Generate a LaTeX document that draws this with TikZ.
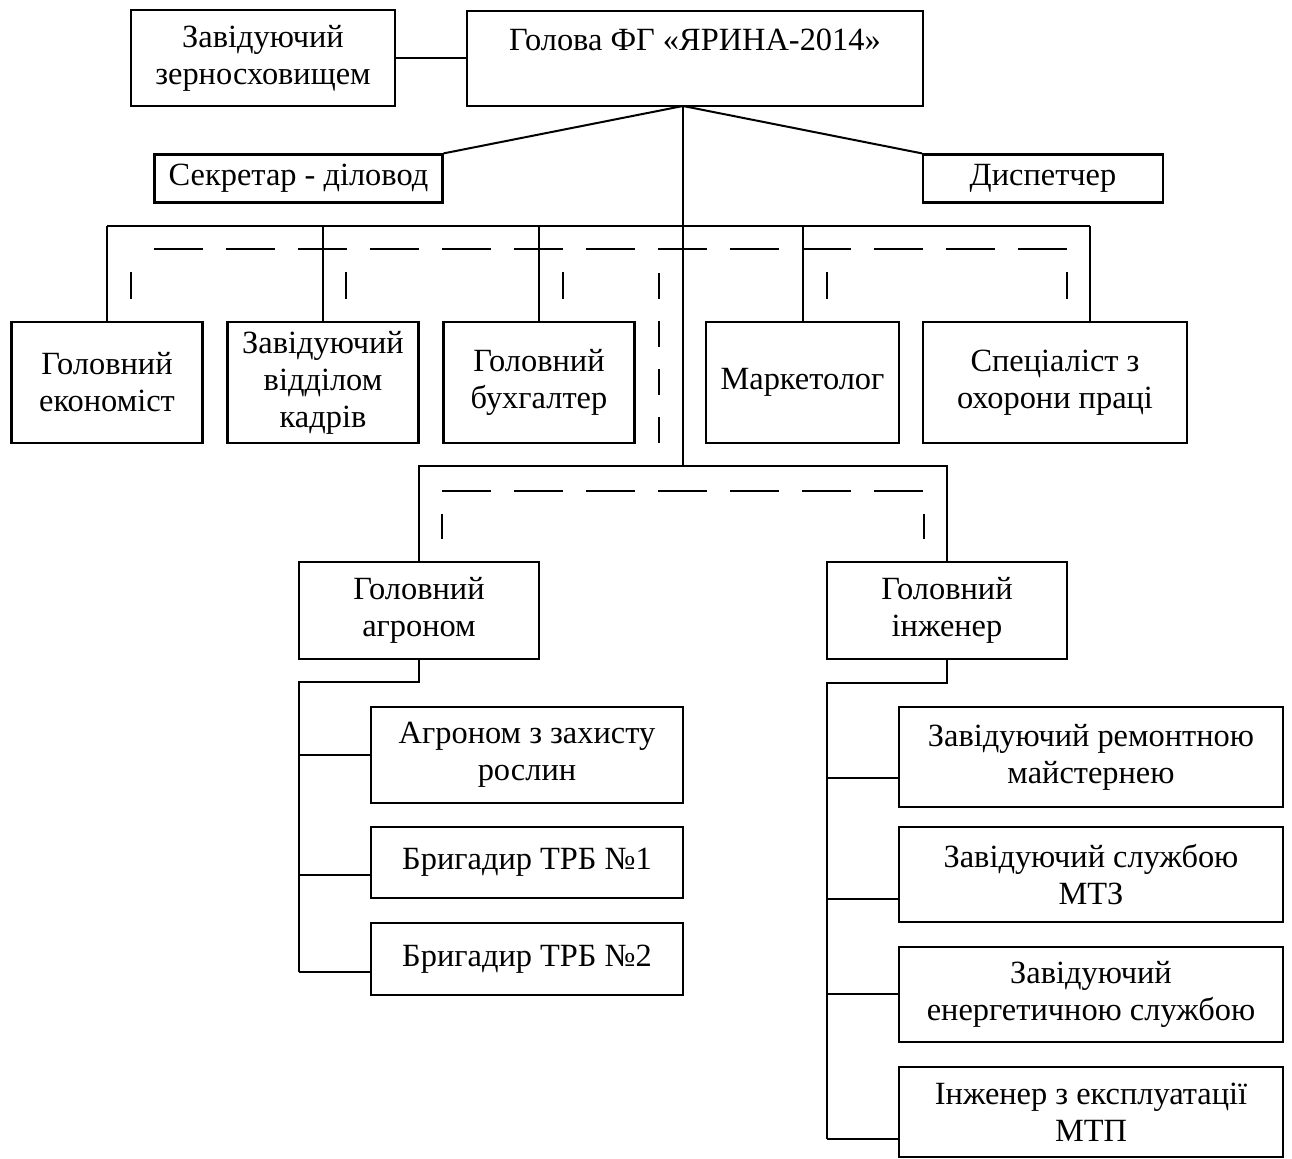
\documentclass[tikz,border=0pt]{standalone}
\usepackage{fontspec}
\setmainfont{Liberation Serif}
\usetikzlibrary{calc}

\begin{document}
\begin{tikzpicture}[x=0.5pt,y=-0.5pt]
\tikzstyle{post}=[draw,line width=1.1pt,align=center,inner sep=0pt,
  font=\fontsize{16.2}{18.5}\selectfont]
\tikzstyle{link}=[line width=1pt]
\tikzset{
dashh/.style={line width=1pt,dash pattern=on 24.5pt off 11.5pt},
dashv/.style={line width=1pt,dash pattern=on 13pt off 11pt},
}
\useasboundingbox (0,0) rectangle (1292,1159);

% HEAD OF THE FARM
\node[post,minimum width=228pt,minimum height=47.5pt] (holova) at (695,58.5)
  {Голова ФГ «ЯРИНА-2014»\\~};
\node[post,minimum width=132pt,minimum height=48pt] (zern) at (263,58)
  {Завідуючий\\зерносховищем};
\node[post,minimum width=144pt,minimum height=24pt] (sekr) at (298.5,178.5)
  {Секретар - діловод};
\node[post,minimum width=120pt,minimum height=24pt] (disp) at (1043,178.5)
  {Диспетчер};
\coordinate (hb) at (683,106); % bottom point of the head box

% STAFF ROW
\node[post,minimum width=95.5pt,minimum height=60.5pt] (econ) at (107,382.5)
  {Головний\\економіст};
\node[post,minimum width=95.5pt,minimum height=60.5pt] (kadry) at (323,382.5)
  {Завідуючий\\відділом\\кадрів};
\node[post,minimum width=95.5pt,minimum height=60.5pt] (bukh) at (539,382.5)
  {Головний\\бухгалтер};
\node[post,minimum width=96.5pt,minimum height=60.5pt] (market) at (802.5,382.5)
  {Маркетолог};
\node[post,minimum width=132pt,minimum height=60.5pt] (okhor) at (1055,382.5)
  {Спеціаліст з\\охорони праці};

% CHIEF AGRONOMIST AND ENGINEER
\node[post,minimum width=120pt,minimum height=48.5pt] (agro) at (419,610.5)
  {Головний\\агроном};
\node[post,minimum width=120pt,minimum height=48.5pt] (inzh) at (947,610.5)
  {Головний\\інженер};

% AGRONOMIST BRANCH
\node[post,minimum width=156pt,minimum height=48pt] (zakh) at (527,755)
  {Агроном з захисту\\рослин};
\node[post,minimum width=156pt,minimum height=35.5pt] (brig1) at (527,862.5)
  {Бригадир ТРБ №1};
\node[post,minimum width=156pt,minimum height=36pt] (brig2) at (527,959)
  {Бригадир ТРБ №2};

% ENGINEER BRANCH
\node[post,minimum width=192pt,minimum height=50pt] (remont) at (1091,757)
  {Завідуючий ремонтною\\майстернею};
\node[post,minimum width=192pt,minimum height=47.5pt] (mtz) at (1091,874.5)
  {Завідуючий службою\\МТЗ};
\node[post,minimum width=192pt,minimum height=47.5pt] (energ) at (1091,994.5)
  {Завідуючий\\енергетичною службою};
\node[post,minimum width=192pt,minimum height=45pt] (mtp) at (1091,1112)
  {Інженер з експлуатації\\МТП};

% LINKS FROM THE HEAD
\draw[link] (zern.east) -- (zern.east -| holova.west);
\draw[link] (hb) -- (sekr.north east);
\draw[link] (hb) -- (disp.north west);
\coordinate (b1l) at (107,226);  % left end of upper bus
\coordinate (b1r) at (1090,226); % right end of upper bus
\coordinate (b2) at (683,466);   % lower bus
\draw[link] (hb) -- (b2);
\draw[link] (b1l) -- (b1r);
\foreach \n in {econ,kadry,bukh,market}
  \draw[link] (\n.north |- b1l) -- (\n.north);
\draw[link] (b1r) -- (b1r |- okhor.north);
\draw[link] (agro.north) -- (agro.north |- b2) -- (inzh.north |- b2) -- (inzh.north);

% DASHED LINES
\draw[dashh] (154,249) -- (1067,249);
\foreach \x in {131,346,563,827,1067}
  \draw[link] (\x,272) -- (\x,299);
\draw[dashv] (659,273) -- (659,443);
\draw[dashh] (442,491) -- (924,491);
\foreach \x in {442,924}
  \draw[link] (\x,514) -- (\x,539);

% AGRONOMIST SUBORDINATES
\coordinate (aj) at (299,682);
\foreach \n/\d in {zakh/0,brig1/12.5,brig2/13}{
  \coordinate (\n-in) at ($(\n.west)+(0,\d)$);
  \draw[link] (\n-in -| aj) -- (\n-in);
}
\draw[link] (agro.south) |- (aj) -- (aj |- brig2-in);

% ENGINEER SUBORDINATES
\coordinate (ij) at (827,683);
\foreach \n/\d in {remont/21,mtz/24.5,energ/0,mtp/27}{
  \coordinate (\n-in) at ($(\n.west)+(0,\d)$);
  \draw[link] (\n-in -| ij) -- (\n-in);
}
\draw[link] (inzh.south) |- (ij) -- (ij |- mtp-in);

\end{tikzpicture}
\end{document}
